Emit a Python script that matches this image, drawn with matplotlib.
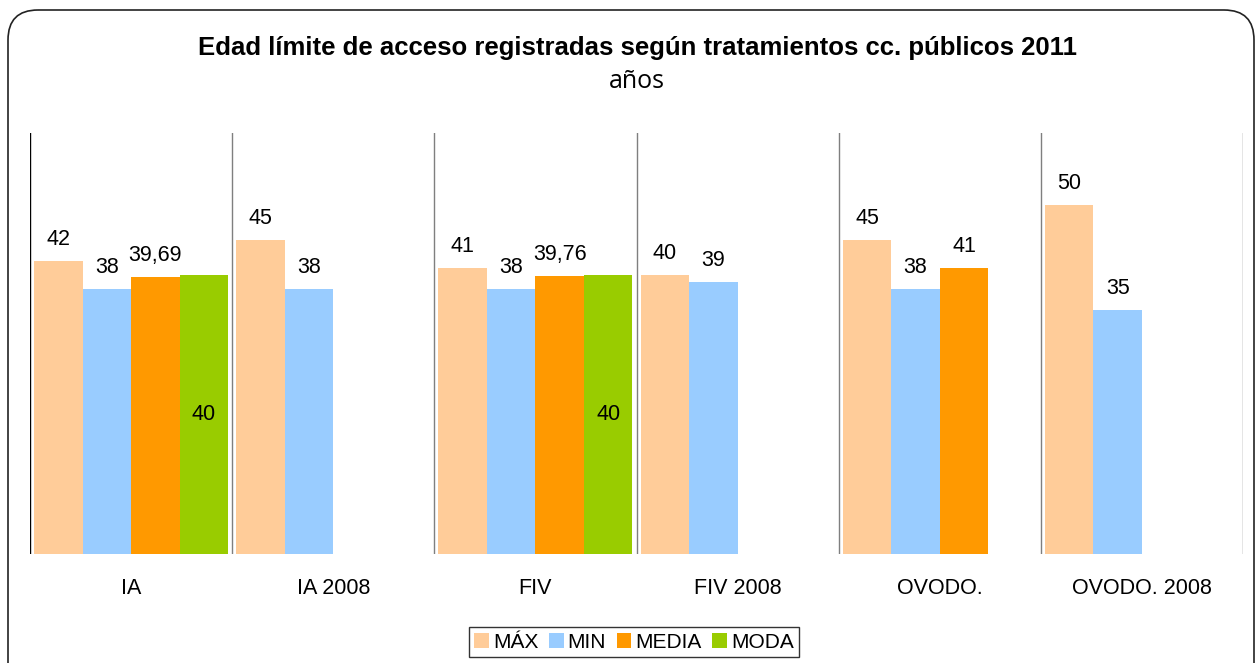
import matplotlib
matplotlib.use('Agg')
import matplotlib.pyplot as plt
from matplotlib.patches import FancyBboxPatch
import numpy as np

plt.rcParams['font.family'] = ['Liberation Sans', 'DejaVu Sans']

categories = ['IA', 'IA 2008', 'FIV', 'FIV 2008', 'OVODO.', 'OVODO. 2008']
series = ['MÁX', 'MIN', 'MEDIA', 'MODA']
maxv = [42, 45, 41, 40, 45, 50]
minv = [38, 38, 38, 39, 38, 35]
media = [39.69, None, 39.76, None, 41, None]
moda = [40, None, 40, None, None, None]
colors = ['#ffcc99', '#99ccff', '#ff9900', '#99cc00']

values = [maxv, minv, media, moda]

W, H = 1259, 663
fig = plt.figure(figsize=(W / 100, H / 100), dpi=100)

# background axes in pixel units, only for the rounded frame
bg = fig.add_axes([0, 0, 1, 1])
bg.set_xlim(0, W)
bg.set_ylim(H, 0)
bg.axis('off')
bg.add_patch(FancyBboxPatch((8, 10), 1246, 690,
                            boxstyle='round,pad=0,rounding_size=30',
                            fill=False, edgecolor='#222222', linewidth=1.2))

ax = fig.add_axes([30 / W, 1 - 554 / H, (1243 - 30) / W, (554 - 133) / H])

x = np.arange(len(categories))
bw = 0.24
for j, (name, vals, c) in enumerate(zip(series, values, colors)):
    xs = [xi - 0.36 + bw * j for xi, v in zip(x, vals) if v is not None]
    hs = [v for v in vals if v is not None]
    bars = ax.bar(xs, hs, width=bw, color=c, label=name, linewidth=0)
    for b, v in zip(bars, hs):
        txt = f'{v:g}'.replace('.', ',')
        cx = b.get_x() + b.get_width() / 2
        if name == 'MODA':
            ax.text(cx, v / 2, txt, ha='center', va='center', fontsize=15.5)
        else:
            ax.annotate(txt, (cx, v), xytext=(0, 8), textcoords='offset points',
                        ha='center', va='bottom', fontsize=15.5)

# separators between the groups
for k in range(len(categories) + 1):
    ax.axvline(k - 0.5, color='black' if k == 0 else '#7f7f7f', linewidth=1)

ax.set_xlim(-0.5, len(categories) - 0.5)
ax.set_ylim(0, 60.3)
for s in ax.spines.values():
    s.set_visible(False)
ax.set_yticks([])
ax.set_xticks(x)
ax.set_xticklabels(categories, fontsize=15.5)
ax.tick_params(axis='x', length=0, pad=17)

fig.text(637 / W, 1 - 48 / H, 'Edad límite de acceso registradas según tratamientos cc. públicos 2011',
         ha='center', va='center', fontsize=18.5, fontweight='bold')
fig.text(637 / W, 1 - 81 / H, 'años', ha='center', va='center', fontsize=18,
         family=['Open Sans', 'DejaVu Sans'])

leg = fig.legend(loc='center', bbox_to_anchor=(634 / W, 1 - 642 / H), ncol=4,
                 fontsize=15, frameon=True, fancybox=False, handlelength=0.7,
                 handleheight=0.7, handletextpad=0.2, columnspacing=0.5,
                 borderpad=0.25, borderaxespad=0)
leg.get_frame().set_edgecolor('black')
leg.get_frame().set_linewidth(1)

fig.savefig('out.png', dpi=100)
